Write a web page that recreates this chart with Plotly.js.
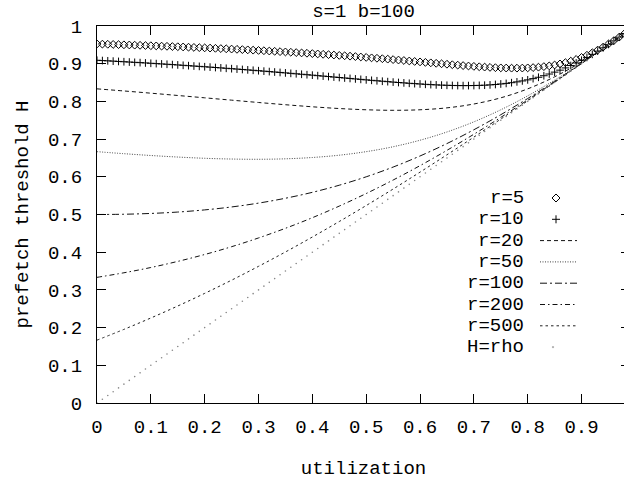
<!DOCTYPE html>
<html>
<head>
<meta charset="utf-8">
<script src="https://cdn.plot.ly/plotly-3.0.1.min.js"></script>
<style>
  html, body { margin: 0; padding: 0; background: #fff; overflow: hidden; width: 624px; height: 486px; }
  #chart { width: 640px; height: 486px; }
</style>
</head>
<body>
<div id="chart"></div>
<script>
// ---- data (s=1, b=100) ----
const chartTitle = 's=1 b=100';
const xTitle = 'utilization';
const yTitle = 'prefetch threshold H';

// sample positions of the point series (every 0.01)
const xPoints = [0,0.01,0.02,0.03,0.04,0.05,0.06,0.07,0.08,0.09,
  0.10,0.11,0.12,0.13,0.14,0.15,0.16,0.17,0.18,0.19,
  0.20,0.21,0.22,0.23,0.24,0.25,0.26,0.27,0.28,0.29,
  0.30,0.31,0.32,0.33,0.34,0.35,0.36,0.37,0.38,0.39,
  0.40,0.41,0.42,0.43,0.44,0.45,0.46,0.47,0.48,0.49,
  0.50,0.51,0.52,0.53,0.54,0.55,0.56,0.57,0.58,0.59,
  0.60,0.61,0.62,0.63,0.64,0.65,0.66,0.67,0.68,0.69,
  0.70,0.71,0.72,0.73,0.74,0.75,0.76,0.77,0.78,0.79,
  0.80,0.81,0.82,0.83,0.84,0.85,0.86,0.87,0.88,0.89,
  0.90,0.91,0.92,0.93,0.94,0.95,0.96,0.97,0.98,0.99];

const r5 = [0.9524,0.9519,0.9515,0.9511,0.9506,0.9501,0.9497,0.9492,0.9487,0.9482,
  0.9477,0.9472,0.9466,0.9461,0.9455,0.9450,0.9444,0.9438,0.9432,0.9426,
  0.9420,0.9414,0.9408,0.9401,0.9395,0.9388,0.9381,0.9374,0.9367,0.9359,
  0.9352,0.9344,0.9336,0.9329,0.9320,0.9312,0.9304,0.9295,0.9286,0.9277,
  0.9268,0.9259,0.9249,0.9240,0.9230,0.9220,0.9210,0.9199,0.9189,0.9178,
  0.9167,0.9155,0.9144,0.9133,0.9121,0.9109,0.9097,0.9085,0.9072,0.9060,
  0.9048,0.9035,0.9023,0.9010,0.8998,0.8986,0.8973,0.8962,0.8950,0.8939,
  0.8929,0.8919,0.8910,0.8902,0.8895,0.8889,0.8885,0.8882,0.8882,0.8884,
  0.8889,0.8897,0.8908,0.8923,0.8942,0.8966,0.8994,0.9028,0.9068,0.9114,
  0.9167,0.9225,0.9291,0.9362,0.9440,0.9524,0.9612,0.9705,0.9802,0.9900];

const r10 = [0.9091,0.9083,0.9076,0.9068,0.9060,0.9052,0.9044,0.9036,0.9028,0.9020,
  0.9011,0.9002,0.8994,0.8985,0.8976,0.8967,0.8957,0.8948,0.8938,0.8929,
  0.8919,0.8909,0.8899,0.8889,0.8878,0.8868,0.8857,0.8847,0.8836,0.8825,
  0.8814,0.8802,0.8791,0.8779,0.8768,0.8756,0.8744,0.8732,0.8720,0.8708,
  0.8696,0.8683,0.8671,0.8659,0.8646,0.8634,0.8621,0.8609,0.8596,0.8584,
  0.8571,0.8559,0.8547,0.8535,0.8524,0.8512,0.8501,0.8491,0.8480,0.8471,
  0.8462,0.8453,0.8445,0.8438,0.8432,0.8427,0.8423,0.8420,0.8419,0.8419,
  0.8421,0.8425,0.8430,0.8438,0.8449,0.8462,0.8477,0.8496,0.8518,0.8543,
  0.8571,0.8604,0.8640,0.8681,0.8726,0.8776,0.8829,0.8888,0.8951,0.9019,
  0.9091,0.9167,0.9248,0.9333,0.9421,0.9512,0.9606,0.9703,0.9801,0.9900];

// sample positions of the line series
const xLines = [0,0.05,0.10,0.15,0.20,0.25,0.30,0.35,0.40,0.45,0.50,
  0.55,0.60,0.65,0.70,0.75,0.80,0.85,0.90,0.95,0.98,0.99];
const r20  = [0.8333,0.8277,0.8218,0.8157,0.8095,0.8033,0.7971,0.7912,0.7857,0.7811,0.7778,
  0.7764,0.7778,0.7829,0.7931,0.8095,0.8333,0.8652,0.9048,0.9506,0.9800,0.9900];
const r50  = [0.6667,0.6613,0.6565,0.6524,0.6491,0.6471,0.6465,0.6477,0.6512,0.6573,0.6667,
  0.6797,0.6970,0.7189,0.7458,0.7778,0.8148,0.8565,0.9020,0.9502,0.9800,0.9900];
const r100 = [0.5000,0.5007,0.5028,0.5065,0.5122,0.5200,0.5302,0.5431,0.5588,0.5777,0.6000,
  0.6258,0.6552,0.6882,0.7248,0.7647,0.8077,0.8533,0.9010,0.9501,0.9800,0.9900];
const r200 = [0.3333,0.3454,0.3594,0.3756,0.3939,0.4146,0.4378,0.4634,0.4915,0.5223,0.5556,
  0.5914,0.6296,0.6702,0.7129,0.7576,0.8039,0.8517,0.9005,0.9501,0.9800,0.9900];
const r500 = [0.1667,0.1953,0.2255,0.2573,0.2908,0.3258,0.3625,0.4006,0.4403,0.4814,0.5238,
  0.5675,0.6124,0.6584,0.7053,0.7531,0.8016,0.8507,0.9002,0.9500,0.9800,0.9900];
// H = rho: the threshold equals the utilization itself
const hRho = xPoints;

const seriesNames = ['r=5','r=10','r=20','r=50','r=100','r=200','r=500','H=rho'];
const xTickVals = [0,0.1,0.2,0.3,0.4,0.5,0.6,0.7,0.8,0.9];
const xTickText = ['0','0.1','0.2','0.3','0.4','0.5','0.6','0.7','0.8','0.9'];
const yTickVals = [0,0.1,0.2,0.3,0.4,0.5,0.6,0.7,0.8,0.9,1];
const yTickText = ['0','0.1','0.2','0.3','0.4','0.5','0.6','0.7','0.8','0.9','1'];

// ---- styling ----
const FONT = 'Liberation Mono, Courier New, DejaVu Sans Mono, monospace';
const FS = 19;
const lineStyles = [
  null, null,
  {color:'#111', dash:'4px,3px'},
  {color:'#444', dash:'1px,1.5px'},
  {color:'#111', dash:'7px,3px,2px,3px'},
  {color:'#111', dash:'5px,3px,1.5px,3px'},
  {color:'#222', dash:'2.5px,3px'}
];

const traces = [
  {x:xPoints, y:r5, name:seriesNames[0], mode:'markers', type:'scatter',
   marker:{symbol:'diamond-open', size:6, color:'#000', line:{width:1, color:'#000'}}},
  {x:xPoints, y:r10, name:seriesNames[1], mode:'markers', type:'scatter',
   marker:{symbol:'cross-thin-open', size:5.5, color:'#000', line:{width:1, color:'#000'}}},
];
const lineData = [r20, r50, r100, r200, r500];
lineData.forEach((ys, i) => {
  const st = lineStyles[i + 2];
  traces.push({x:xLines, y:ys, name:seriesNames[i + 2], mode:'lines', type:'scatter',
    line:{color:st.color, width:1, dash:st.dash, shape:'spline', smoothing:1}});
});
traces.push({x:xPoints, y:hRho, name:seriesNames[7], mode:'markers', type:'scatter',
  marker:{symbol:'circle', size:1.6, color:'#888', line:{width:0}}});

// ---- hand-built gnuplot-style key (text right-aligned, sample to its right) ----
const plotL = 97, plotR = 630, plotT = 26, plotB = 403;
const pw = plotR - plotL, ph = plotB - plotT;
const keyTextRight = 526, keySampleL = 540, keySampleR = 577, keyPoint = 556;
const keyRow0 = 198, keyRowStep = 21.3;
const px2x = p => (p - plotL) / pw;
const px2y = p => (plotB - p) / ph;

const annotations = [];
const shapes = [];
seriesNames.forEach((nm, i) => {
  const yp = px2y(keyRow0 + i * keyRowStep);
  annotations.push({text:nm, xref:'paper', yref:'paper', x:px2x(keyTextRight), y:yp,
    xanchor:'right', yanchor:'middle', showarrow:false, font:{family:FONT, size:FS, color:'#000'}});
  if (i >= 2 && i <= 6) {
    const st = lineStyles[i];
    shapes.push({type:'line', xref:'paper', yref:'paper', x0:px2x(keySampleL), x1:px2x(keySampleR),
      y0:yp, y1:yp, line:{color:st.color, width:1, dash:st.dash}});
  }
});
// point samples of the key
shapes.push({type:'path', xref:'paper', yref:'paper', xsizemode:'pixel', ysizemode:'pixel',
  xanchor:px2x(keyPoint), yanchor:px2y(keyRow0),
  path:'M -4 0 L 0 4 L 4 0 L 0 -4 Z', line:{color:'#000', width:1}});
shapes.push({type:'path', xref:'paper', yref:'paper', xsizemode:'pixel', ysizemode:'pixel',
  xanchor:px2x(keyPoint), yanchor:px2y(keyRow0 + keyRowStep),
  path:'M -4 0 L 4 0 M 0 -4 L 0 4', line:{color:'#000', width:1}});
shapes.push({type:'path', xref:'paper', yref:'paper', xsizemode:'pixel', ysizemode:'pixel',
  xanchor:px2x(keyPoint - 3), yanchor:px2y(keyRow0 + 7 * keyRowStep),
  path:'M -0.6 -0.6 L 0.6 -0.6 L 0.6 0.6 L -0.6 0.6 Z', fillcolor:'#999', line:{color:'#999', width:0.5}});

const axisCommon = {
  ticks:'inside', ticklen:9, tickwidth:1, tickcolor:'#000',
  showline:true, linecolor:'#000', linewidth:1, mirror:'allticks',
  showgrid:false, zeroline:false,
  tickfont:{family:FONT, size:FS, color:'#000'}
};

const layout = {
  width:640, height:486,
  margin:{l:plotL, r:640 - plotR, t:plotT, b:486 - plotB, pad:0},
  paper_bgcolor:'#fff', plot_bgcolor:'#fff',
  showlegend:false,
  font:{family:FONT, size:FS, color:'#000'},
  title:{text:chartTitle, x:0.5, xref:'paper', xanchor:'center', y:0.978, yref:'container', yanchor:'middle',
    font:{family:FONT, size:FS, color:'#000'}},
  xaxis:Object.assign({}, axisCommon, {range:[0, 0.99], tickmode:'array', tickvals:xTickVals, ticktext:xTickText,
    ticklabelstandoff:6, title:{text:xTitle, standoff:22, font:{family:FONT, size:FS, color:'#000'}}}),
  yaxis:Object.assign({}, axisCommon, {range:[0, 1], tickmode:'array', tickvals:yTickVals, ticktext:yTickText,
    ticklabelstandoff:10, title:{text:yTitle, standoff:14, font:{family:FONT, size:FS, color:'#000'}}}),
  annotations:annotations,
  shapes:shapes
};

Plotly.newPlot('chart', traces, layout, {staticPlot:true, displayModeBar:false});
</script>
</body>
</html>
